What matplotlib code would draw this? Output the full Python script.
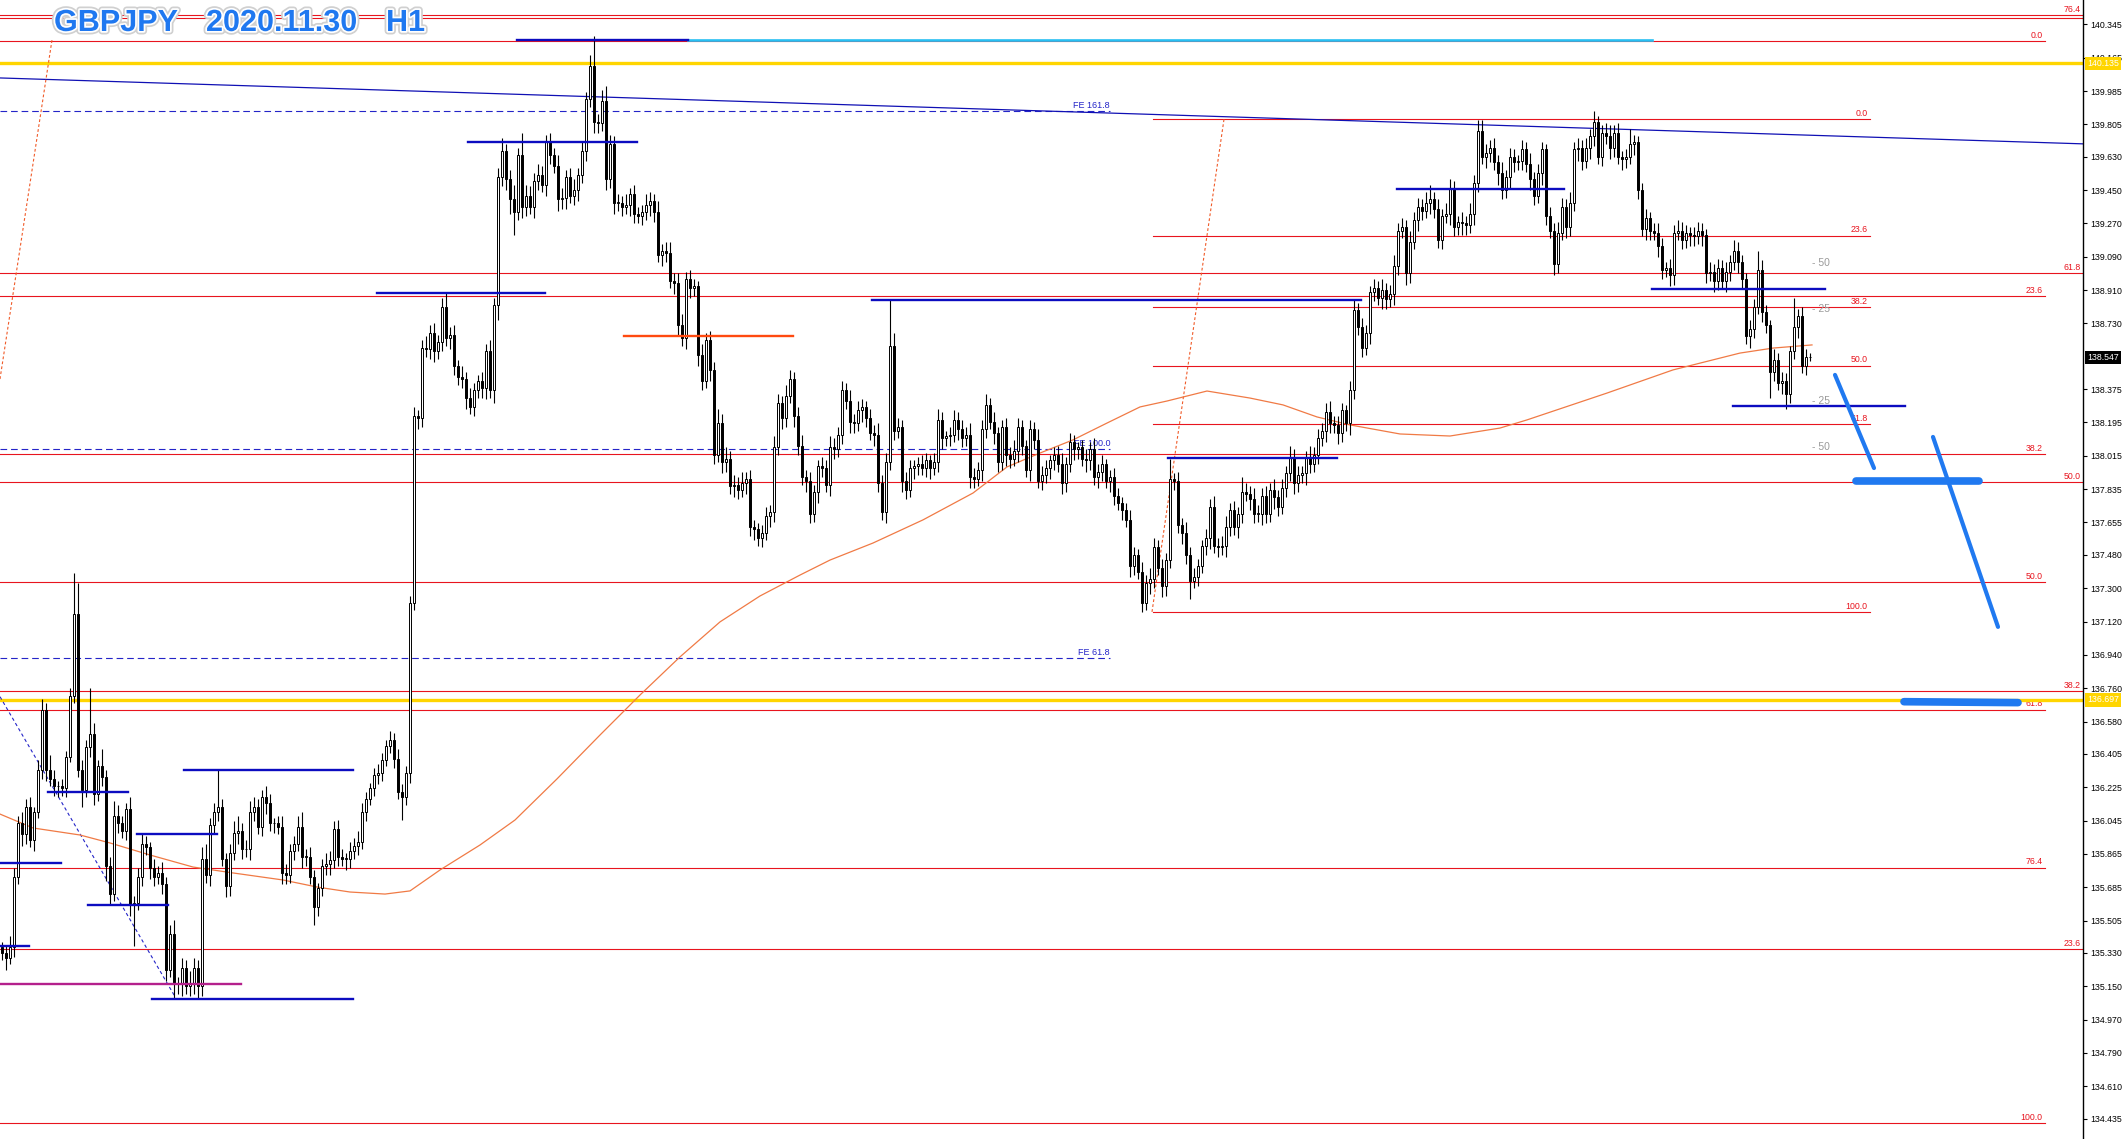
import matplotlib
matplotlib.use("Agg")
import matplotlib.pyplot as plt
import matplotlib.patheffects as pe
import numpy as np

plt.rcParams['font.family'] = ['Liberation Sans', 'DejaVu Sans']

# ---- H1 candles (open = previous close) ----
first_open = 135.36
closes = [
    135.33, 135.30, 135.36, 135.74, 136.03, 135.97, 136.12, 135.94, 136.09, 136.32,
    136.64, 136.32, 136.27, 136.23, 136.23, 136.22, 136.39, 136.72, 137.16, 136.32,
    136.21, 136.44, 136.51, 136.19, 136.34, 136.28, 135.80, 135.65, 136.07, 136.03,
    135.99, 136.11, 135.59, 135.60, 135.74, 135.92, 135.90, 135.79, 135.74, 135.76,
    135.70, 135.24, 135.43, 135.16, 135.16, 135.25, 135.15, 135.17, 135.25, 135.15,
    135.84, 135.75, 136.02, 136.09, 136.12, 135.84, 135.69, 135.87, 135.98, 135.99,
    135.89, 135.89, 136.09, 136.12, 136.01, 136.17, 136.14, 136.03, 136.03, 136.01,
    135.76, 135.75, 135.88, 135.92, 136.01, 135.85, 135.85, 135.74, 135.58, 135.68,
    135.80, 135.81, 135.83, 136.00, 135.85, 135.84, 135.84, 135.88, 135.91, 135.93,
    136.09, 136.16, 136.22, 136.29, 136.30, 136.37, 136.45, 136.48, 136.38, 136.20,
    136.17, 136.30, 137.22, 138.23, 138.22, 138.60, 138.59, 138.68, 138.58, 138.63,
    138.82, 138.65, 138.67, 138.50, 138.44, 138.43, 138.33, 138.28, 138.37, 138.42,
    138.38, 138.58, 138.37, 138.83, 139.52, 139.66, 139.51, 139.40, 139.33, 139.64,
    139.36, 139.42, 139.36, 139.50, 139.53, 139.48, 139.71, 139.64, 139.58, 139.40,
    139.41, 139.52, 139.42, 139.45, 139.53, 139.66, 139.94, 140.12, 139.82, 139.81,
    139.93, 139.51, 139.70, 139.38, 139.38, 139.36, 139.37, 139.43, 139.32, 139.31,
    139.33, 139.37, 139.39, 139.33, 139.10, 139.12, 139.11, 138.96, 138.95, 138.72,
    138.65, 138.97, 138.92, 138.93, 138.56, 138.42, 138.64, 138.48, 138.02, 138.19,
    137.98, 138.00, 137.85, 137.86, 137.83, 137.87, 137.89, 137.63, 137.62, 137.57,
    137.60, 137.69, 137.71, 138.06, 138.30, 138.22, 138.34, 138.43, 138.23, 138.07,
    137.90, 137.88, 137.70, 137.82, 137.96, 137.95, 137.86, 138.06, 138.05, 138.13,
    138.37, 138.31, 138.20, 138.19, 138.26, 138.28, 138.22, 138.14, 138.13, 137.87,
    137.71, 137.98, 138.61, 138.15, 138.17, 137.88, 137.83, 137.95, 137.96, 137.97,
    137.95, 137.99, 137.95, 137.98, 138.21, 138.11, 138.12, 138.13, 138.21, 138.16,
    138.11, 138.13, 137.90, 137.89, 137.94, 138.16, 138.29, 138.20, 138.14, 137.98,
    138.17, 138.02, 138.00, 138.04, 138.17, 138.07, 137.94, 138.16, 138.10, 137.88,
    137.91, 137.95, 137.99, 138.02, 137.97, 137.87, 137.97, 138.09, 138.05, 138.06,
    138.00, 137.99, 138.05, 137.90, 137.93, 137.97, 137.88, 137.90, 137.80, 137.76,
    137.72, 137.67, 137.42, 137.48, 137.39, 137.22, 137.33, 137.35, 137.52, 137.41,
    137.31, 137.45, 137.89, 137.88, 137.64, 137.60, 137.48, 137.34, 137.36, 137.42,
    137.53, 137.57, 137.74, 137.53, 137.52, 137.53, 137.63, 137.72, 137.63, 137.70,
    137.82, 137.81, 137.78, 137.70, 137.70, 137.80, 137.70, 137.83, 137.79, 137.74,
    137.84, 137.92, 138.01, 137.87, 137.91, 137.92, 138.01, 137.97, 138.02, 138.11,
    138.15, 138.25, 138.19, 138.18, 138.14, 138.26, 138.19, 138.37, 138.80, 138.71,
    138.60, 138.68, 138.90, 138.92, 138.87, 138.91, 138.86, 138.89, 139.04, 139.23,
    139.25, 139.00, 139.17, 139.29, 139.36, 139.34, 139.38, 139.40, 139.35, 139.18,
    139.31, 139.32, 139.46, 139.25, 139.28, 139.27, 139.26, 139.32, 139.49, 139.77,
    139.63, 139.65, 139.68, 139.60, 139.54, 139.45, 139.52, 139.63, 139.60, 139.61,
    139.67, 139.59, 139.51, 139.42, 139.54, 139.67, 139.31, 139.23, 139.05, 139.22,
    139.36, 139.25, 139.38, 139.67, 139.68, 139.61, 139.68, 139.74, 139.82, 139.63,
    139.76, 139.74, 139.68, 139.76, 139.63, 139.62, 139.63, 139.70, 139.71, 139.45,
    139.24, 139.30, 139.23, 139.22, 139.15, 139.02, 139.03, 138.99, 139.22, 139.23,
    139.18, 139.22, 139.21, 139.20, 139.23, 139.21, 139.00, 139.01, 138.96, 139.03,
    138.96, 139.01, 139.06, 139.12, 139.06, 138.97, 138.66, 138.70, 138.82, 139.02,
    138.79, 138.72, 138.47, 138.53, 138.41, 138.42, 138.35, 138.58, 138.71, 138.77,
    138.50, 138.55, 138.547,
]
# wick lengths beyond the body, in pips
up_wick = [
    3, 4, 6, 5, 4, 6, 4, 5, 3, 5, 6, 4, 8, 5, 3, 4, 3, 4, 22, 17,
    5, 4, 25, 6, 3, 9, 4, 5, 8, 6, 4, 3, 6, 4, 5, 5, 4, 3, 5, 4,
    6, 4, 5, 8, 4, 5, 4, 6, 5, 4, 6, 8, 4, 5, 20, 4, 3, 5, 6, 8,
    4, 5, 6, 5, 4, 4, 6, 5, 3, 4, 6, 5, 4, 4, 6, 8, 4, 5, 4, 3,
    4, 6, 5, 4, 5, 4, 3, 5, 4, 6, 5, 4, 3, 4, 5, 4, 3, 5, 4, 5,
    4, 4, 4, 5, 3, 4, 6, 4, 5, 4, 5, 8, 4, 5, 3, 6, 4, 5, 4, 3,
    5, 4, 6, 4, 5, 7, 4, 5, 8, 4, 12, 6, 5, 4, 6, 5, 4, 5, 4, 6,
    5, 4, 5, 6, 4, 5, 4, 6, 16, 4, 6, 8, 5, 4, 5, 4, 6, 3, 5, 4,
    4, 6, 5, 4, 6, 4, 5, 6, 4, 5, 6, 4, 5, 4, 3, 6, 4, 5, 4, 8,
    5, 6, 4, 5, 4, 6, 4, 5, 4, 3, 4, 5, 4, 6, 5, 4, 6, 5, 4, 5,
    6, 4, 5, 4, 3, 5, 4, 6, 5, 4, 5, 4, 6, 4, 5, 4, 3, 5, 4, 6,
    4, 5, 25, 7, 5, 4, 5, 4, 3, 4, 5, 4, 3, 5, 6, 4, 3, 4, 5, 4,
    5, 4, 6, 5, 4, 5, 6, 4, 5, 3, 4, 5, 4, 6, 5, 4, 3, 5, 4, 6,
    5, 4, 3, 4, 5, 6, 4, 5, 4, 3, 4, 5, 4, 6, 4, 5, 3, 4, 5, 4,
    3, 4, 5, 4, 3, 5, 4, 6, 5, 4, 5, 4, 11, 3, 5, 4, 6, 4, 5, 4,
    3, 5, 4, 6, 4, 5, 6, 4, 5, 4, 8, 5, 4, 6, 5, 4, 5, 4, 6, 4,
    5, 4, 6, 4, 5, 4, 3, 6, 4, 5, 4, 5, 6, 4, 5, 4, 3, 5, 6, 4,
    5, 4, 3, 5, 4, 6, 4, 5, 6, 4, 5, 4, 6, 4, 5, 4, 6, 8, 4, 5,
    4, 6, 5, 4, 3, 5, 4, 6, 4, 6, 6, 5, 4, 5, 4, 6, 4, 5, 4, 3,
    5, 4, 6, 4, 5, 4, 3, 5, 4, 6, 5, 4, 6, 4, 5, 4, 5, 4, 6, 3,
    4, 5, 6, 4, 5, 3, 4, 8, 4, 3, 4, 5, 3, 4, 5, 4, 3, 5, 4, 6,
    5, 4, 3, 4, 5, 4, 3, 5, 4, 5, 4, 5, 4, 6, 5, 4, 3, 5, 4, 10,
    5, 4, 3, 6, 4, 5, 4, 3, 16, 4, 5, 4, 2,
]
dn_wick = [
    4, 6, 3, 5, 4, 6, 5, 4, 6, 3, 5, 6, 4, 5, 6, 4, 5, 3, 4, 4,
    9, 4, 5, 6, 4, 5, 8, 6, 4, 5, 4, 5, 6, 22, 4, 5, 4, 6, 5, 4,
    5, 6, 4, 8, 5, 6, 4, 5, 6, 7, 5, 4, 6, 4, 5, 4, 6, 5, 4, 6,
    5, 4, 6, 5, 4, 5, 6, 4, 5, 4, 6, 5, 4, 5, 4, 6, 5, 4, 10, 5,
    4, 5, 6, 4, 5, 4, 6, 5, 4, 5, 4, 5, 3, 4, 5, 4, 3, 4, 5, 4,
    12, 4, 5, 4, 6, 5, 4, 5, 6, 4, 5, 4, 6, 5, 4, 5, 6, 4, 5, 4,
    5, 6, 4, 7, 8, 5, 6, 8, 12, 4, 6, 5, 4, 6, 5, 4, 6, 5, 4, 6,
    5, 6, 4, 5, 6, 4, 5, 4, 6, 5, 4, 6, 5, 6, 4, 5, 4, 6, 5, 4,
    5, 4, 6, 5, 4, 6, 5, 4, 6, 5, 4, 6, 5, 4, 6, 5, 4, 6, 5, 4,
    6, 5, 4, 6, 5, 4, 6, 5, 6, 4, 5, 4, 6, 5, 4, 6, 5, 4, 6, 5,
    4, 6, 5, 4, 6, 5, 4, 6, 5, 4, 5, 4, 6, 5, 4, 6, 5, 4, 6, 5,
    4, 6, 4, 5, 4, 6, 5, 4, 6, 5, 4, 5, 6, 4, 5, 6, 4, 5, 4, 6,
    5, 4, 6, 5, 4, 6, 5, 4, 6, 5, 4, 6, 5, 4, 6, 5, 4, 6, 5, 4,
    5, 4, 6, 5, 4, 6, 5, 4, 6, 5, 4, 6, 5, 4, 6, 5, 4, 6, 5, 4,
    5, 4, 6, 5, 4, 5, 4, 6, 5, 4, 6, 5, 4, 5, 4, 6, 5, 10, 4, 5,
    4, 5, 6, 4, 5, 4, 6, 5, 4, 6, 5, 4, 6, 5, 4, 6, 5, 4, 6, 5,
    4, 5, 4, 6, 5, 4, 6, 5, 4, 5, 4, 6, 5, 4, 6, 5, 4, 6, 5, 4,
    5, 4, 6, 5, 4, 6, 5, 4, 6, 5, 4, 6, 5, 4, 6, 5, 4, 6, 5, 4,
    5, 4, 6, 5, 4, 6, 5, 4, 6, 5, 4, 6, 5, 4, 6, 5, 4, 6, 5, 4,
    5, 4, 6, 5, 4, 6, 5, 4, 6, 5, 4, 6, 5, 4, 6, 5, 4, 6, 5, 4,
    5, 4, 6, 5, 4, 6, 5, 4, 6, 5, 4, 6, 5, 4, 6, 5, 4, 6, 5, 4,
    5, 4, 6, 5, 4, 6, 5, 4, 6, 5, 4, 6, 5, 4, 6, 5, 4, 6, 5, 4,
    5, 4, 14, 5, 4, 6, 8, 5, 4, 6, 4, 5, 2,
]

# moving average (bar index, price)
ma_bar = [-0.5, 7.75, 19.5, 27, 37, 47.75, 57.75, 70.25, 78.75, 87, 95.75, 102, 109.5,
          119.5, 128.25, 138.75, 149.5, 159.5, 169.5, 179.5, 189.5, 199.5, 207, 217.75,
          230.25, 242.75, 251.25, 259.5, 267.75, 276.25, 284.5, 291.25, 301.25, 312,
          320.25, 328.75, 337, 349.5, 362, 374.5, 381.25, 401.25, 417.75, 434.5, 442.75, 452.5]
ma_val = [136.080, 136.005, 135.967, 135.924, 135.859, 135.794, 135.762, 135.724, 135.686,
          135.659, 135.648, 135.665, 135.778, 135.913, 136.048, 136.270, 136.507, 136.723,
          136.929, 137.118, 137.258, 137.371, 137.452, 137.544, 137.669, 137.814, 137.955,
          138.030, 138.101, 138.192, 138.279, 138.311, 138.365, 138.327, 138.290, 138.225,
          138.182, 138.133, 138.122, 138.165, 138.209, 138.354, 138.479, 138.570, 138.597,
          138.614]

# price axis labels
y_ticks = [140.345, 140.165, 139.985, 139.805, 139.630, 139.450, 139.270, 139.090, 138.910,
           138.730, 138.375, 138.195, 138.015, 137.835, 137.655, 137.480, 137.300, 137.120,
           136.940, 136.760, 136.580, 136.405, 136.225, 136.045, 135.865, 135.685, 135.505,
           135.330, 135.150, 134.970, 134.790, 134.610, 134.435]

# fibonacci retracements: (price at 0 %, price at 100 %, levels, first bar, last bar)
fib_a = (133.096, 142.650, [23.6, 38.2, 50.0, 61.8, 76.4], -0.5, 520.25)
fib_b = (140.256, 134.412, [0.0, 23.6, 38.2, 50.0, 61.8, 76.4, 100.0], -0.5, 510.75)
fib_c = (139.833, 137.172, [0.0, 23.6, 38.2, 50.0, 61.8, 100.0], 287.75, 467.0)
extra_red = 140.381

# horizontal segments: (first bar, last bar, price)
blue_segments = [(128.75, 171.5, 140.262), (116.5, 158.75, 139.712), (93.75, 135.75, 138.896),
                 (217.5, 339.75, 138.858), (348.75, 390.5, 139.458), (412.5, 455.75, 138.918),
                 (432.75, 475.75, 138.284), (291.5, 333.75, 138.005), (-0.5, 14.75, 135.818),
                 (11.5, 31.5, 136.201), (21.5, 41.5, 135.591), (33.75, 53.75, 135.973),
                 (45.5, 87.75, 136.320), (-0.5, 6.75, 135.369), (37.5, 87.75, 135.083)]
cyan_segment = (171.5, 412.5, 140.262)
orange_segment = (155.5, 197.75, 138.660)
magenta_segment = (-0.5, 59.75, 135.161)
yellow_levels = [140.135, 136.697]

# Fibonacci expansion lines (price, label)
fe_levels = [(139.877, "FE 161.8"), (138.050, "FE 100.0"), (136.923, "FE 61.8")]
fe_end = 277.0

trend_line = ([-0.5, 520.25], [140.056, 139.700])
blue_diag = ([-0.5, 43.25], [136.714, 135.094])
orange_diag_1 = ([-0.5, 12.5], [138.430, 140.261])
orange_diag_2 = ([287.5, 305.5], [137.172, 139.833])

grey_marks = [(139.057, "- 50"), (138.808, "- 25"), (138.311, "- 25"), (138.063, "- 50")]

# hand-drawn scenario strokes
thin_strokes = [([458.25, 468.0], [138.452, 137.949]), ([482.75, 499.0], [138.117, 137.091])]
thick_strokes = [([463.5, 494.25], [137.879, 137.879]), ([475.5, 504.0], [136.687, 136.682])]

RED = '#e8141e'
BLUE = '#1010b4'
YELLOW = '#ffd500'
PEN = '#2079f0'

W, H = 2123, 1139
fig = plt.figure(figsize=(W / 100, H / 100), dpi=100)
ax = fig.add_axes([0, 0, 2083 / W, 1])
ax.set_xlim(-0.5, 520.25)
ax.set_ylim(134.325, 140.477)

# fib lines
for p0, p100, levels, xs, xe in (fib_a, fib_b, fib_c):
    for lv in levels:
        price = p0 + (p100 - p0) * lv / 100
        ax.plot([xs, xe], [price, price], color=RED, lw=0.8, zorder=2)
        ax.text(xe - 0.6, price + 0.006, f"{lv:.1f}", color=RED, fontsize=6.3,
                ha='right', va='bottom', zorder=2)
ax.plot([-0.5, 520.25], [extra_red, extra_red], color=RED, lw=0.8, zorder=2)

for y in yellow_levels:
    ax.plot([-0.5, 520.25], [y, y], color=YELLOW, lw=2.4, zorder=2)

for price, label in fe_levels:
    ax.plot([-0.5, fe_end], [price, price], color='#2424c8', lw=0.8,
            dashes=(6, 3.5), zorder=2)
    ax.text(fe_end, price + 0.008, label, color='#2424c8', fontsize=6.5,
            ha='right', va='bottom', zorder=2)

ax.plot(*trend_line, color=BLUE, lw=0.9, zorder=2)
ax.plot(*blue_diag, color='#2424c8', lw=0.8, dashes=(3, 2.5), zorder=2)
ax.plot(*orange_diag_1, color='#f05a28', lw=0.8, dashes=(2.5, 2), zorder=2)
ax.plot(*orange_diag_2, color='#f05a28', lw=0.8, dashes=(2.5, 2), zorder=2)

ax.plot(ma_bar, ma_val, color='#f07a45', lw=0.9, zorder=2.5)

# candles
n = min(len(closes), len(up_wick), len(dn_wick))
c = np.array(closes[:n])
o = np.r_[first_open, c[:-1]]
hi = np.maximum(o, c) + np.array(up_wick[:n]) / 100
lo = np.minimum(o, c) - np.array(dn_wick[:n]) / 100
x = np.arange(n)
ax.vlines(x, lo, hi, color='black', lw=0.8, zorder=3)
body = np.maximum(np.abs(c - o), 0.004)
ax.bar(x, body, bottom=np.minimum(o, c), width=0.62,
       color=np.where(c >= o, 'white', 'black'), edgecolor='black', linewidth=0.7, zorder=4)

# horizontal segments
ax.plot(cyan_segment[:2], [cyan_segment[2]] * 2, color='#28bff2', lw=1.9, zorder=5)
for xs, xe, p in blue_segments:
    ax.plot([xs, xe], [p, p], color='#0c0cc0', lw=1.7, zorder=5)
ax.plot(orange_segment[:2], [orange_segment[2]] * 2, color='#ff4a10', lw=1.7, zorder=5)
ax.plot(magenta_segment[:2], [magenta_segment[2]] * 2, color='#b4208c', lw=1.7, zorder=5)

for p, t in grey_marks:
    ax.text(452.5, p, t, color='#9a9a9a', fontsize=7.5, ha='left', va='center', zorder=5)

for xs, ys in thin_strokes:
    ax.plot(xs, ys, color=PEN, lw=3.0, solid_capstyle='round', zorder=6)
for xs, ys in thick_strokes:
    ax.plot(xs, ys, color=PEN, lw=5.5, solid_capstyle='round', zorder=6)

# axis
ax.yaxis.tick_right()
ax.set_yticks(y_ticks)
ax.set_yticklabels([f"{v:.3f}" for v in y_ticks])
ax.tick_params(axis='y', direction='out', length=3, width=0.8, pad=2, labelsize=6.3)
ax.set_xticks([])
for s in ('left', 'top', 'bottom'):
    ax.spines[s].set_visible(False)
ax.spines['right'].set_linewidth(1.0)

tr = ax.get_yaxis_transform()
for val, txt, bg in [(140.135, "140.135", YELLOW), (138.547, "138.547", 'black'),
                     (136.697, "136.697", YELLOW)]:
    ax.text(1.002, val, txt, transform=tr, ha='left', va='center', fontsize=6.3,
            color='white', clip_on=False, zorder=10,
            bbox=dict(boxstyle='square,pad=0.25', fc=bg, ec='none'))

# title
effects = [pe.Stroke(linewidth=5, foreground='#d0d0d0'),
           pe.Stroke(linewidth=2.5, foreground='white'), pe.Normal()]
for s, xp in [("GBPJPY", 54), ("2020.11.30", 206), ("H1", 386)]:
    fig.text(xp / W, 1 - 23 / H, s, color='#1f78f0', fontsize=22, fontweight='bold',
             ha='left', va='center', path_effects=effects, zorder=10)

fig.savefig('out.png', dpi=100)
